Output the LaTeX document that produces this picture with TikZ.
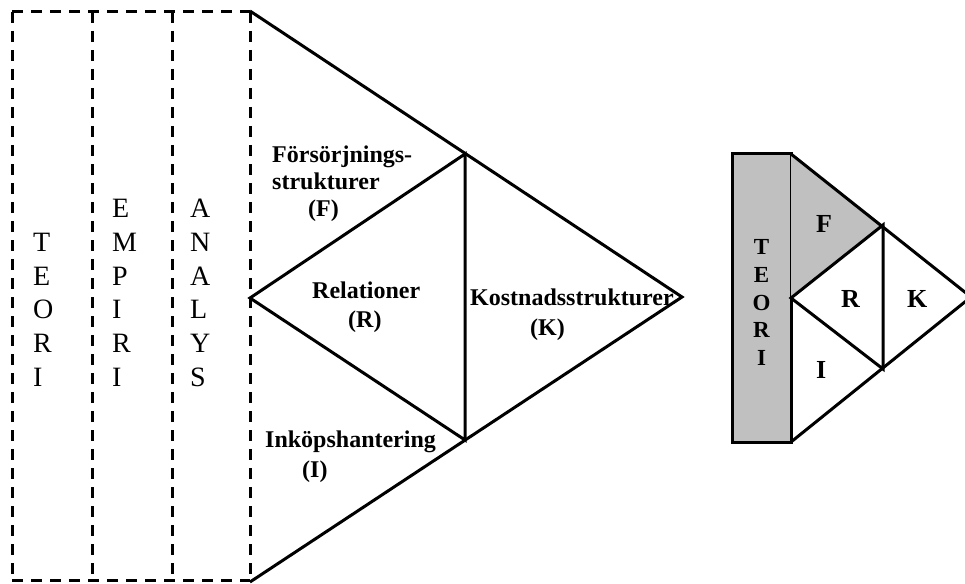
\documentclass[tikz,border=0pt]{standalone}
\usepackage{fontspec}
\setmainfont{Liberation Serif}
\definecolor{panelgrey}{RGB}{192,192,192}
\begin{document}
\begin{tikzpicture}[x=1bp,y=-1bp,
  dashline/.style={line width=3bp, dash pattern=on 11bp off 8bp},
  solidline/.style={line width=3bp, line join=miter},
  lbl/.style={font=\bfseries\fontsize{24bp}{28bp}\selectfont, inner sep=0pt, anchor=base west},
  smalllbl/.style={font=\bfseries\fontsize{26bp}{30bp}\selectfont, inner sep=0pt, anchor=base west},
  col/.style={font=\fontsize{28bp}{32bp}\selectfont, inner sep=0pt, anchor=base west},
  sidecol/.style={font=\bfseries\fontsize{23bp}{27bp}\selectfont, inner sep=0pt, anchor=base}]
\useasboundingbox (0,0) rectangle (965,584);
\clip (0,0) rectangle (965,584);

% dashed columns
\coordinate (c0t) at (12,12);  \coordinate (c0b) at (12,580);
\coordinate (c1t) at (92,12);  \coordinate (c1b) at (92,580);
\coordinate (c2t) at (172,12); \coordinate (c2b) at (172,580);
\coordinate (c3t) at (250,12); \coordinate (c3b) at (250,580);
\draw[dashline] (c0t) -- (c3t);
\draw[dashline] (c0b) -- (c3b);
\draw[dashline] (c0t) -- (c0b);
\draw[dashline] (c1t) -- (c1b);
\draw[dashline] (c2t) -- (c2b);
\draw[dashline] (c3t) -- (c3b);

\foreach \ch [count=\i] in {T,E,O,R,I}
  \node[col] (teori\i) at (33,{218+33.6*\i}) {\ch};
\foreach \ch [count=\i] in {E,M,P,I,R,I}
  \node[col] (empiri\i) at (112,{218+33.6*(\i-1)}) {\ch};
\foreach \ch [count=\i] in {A,N,A,L,Y,S}
  \node[col] (analys\i) at (190,{218+33.6*(\i-1)}) {\ch};

% large triangle
\coordinate (bt) at (250,11);
\coordinate (ba) at (682,297);
\coordinate (bb) at (250,582);
\coordinate (bl) at (250,298);
\coordinate (bu) at (465,154);
\coordinate (bd) at (465,440);
\draw[solidline] (bt) -- (ba) -- (bb);
\draw[solidline] (bl) -- (bu) -- (bd) -- cycle;

\node[lbl] (fors) at (272,163) {Försörjnings-};
\node[lbl] (strk) at (272,190) {strukturer};
\node[lbl] (fF) at (308,217) {(F)};
\node[lbl] (rel) at (312,298) {Relationer};
\node[lbl] (rR) at (348,327) {(R)};
\node[lbl] (kost) at (470,305) {Kostnadsstrukturer};
\node[lbl] (kK) at (530,335) {(K)};
\node[lbl] (ink) at (265,447) {Inköpshantering};
\node[lbl] (iI) at (302,477) {(I)};

% small figure
\coordinate (st) at (791,154);
\coordinate (su) at (883,225);
\coordinate (sa) at (971,297);
\coordinate (sd) at (883,369);
\coordinate (sb) at (791,442);
\coordinate (sl) at (791,298);
\draw[solidline, fill=panelgrey] (732,154) rectangle (sb);
\fill[panelgrey] (st) -- (su) -- (sl) -- cycle;
\draw[solidline] (st) -- (sa) -- (sb);
\draw[solidline] (sl) -- (su) -- (sd) -- cycle;

\foreach \ch [count=\i] in {T,E,O,R,I}
  \node[sidecol] (steori\i) at (761.5,{255+27.5*(\i-1)}) {\ch};
\node[smalllbl] (sF) at (816,233) {F};
\node[smalllbl] (sR) at (841,307) {R};
\node[smalllbl] (sK) at (907,307) {K};
\node[smalllbl] (sI) at (816,378) {I};
\end{tikzpicture}
\end{document}
